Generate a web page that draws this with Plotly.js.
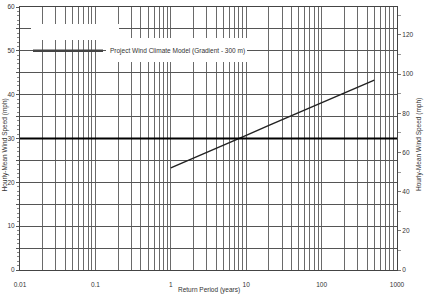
<!DOCTYPE html>
<html>
<head>
<meta charset="utf-8">
<script src="https://cdn.plot.ly/plotly-3.0.1.min.js"></script>
<style>html,body{margin:0;padding:0;background:#fff;}#chart{width:424px;height:294px;}</style>
</head>
<body>
<div id="chart"></div>
<script>
// Data
const returnPeriod = [1, 2, 5, 10, 20, 50, 100, 200, 500];          // years
const windSpeed    = [23.3, 25.5, 28.5, 30.7, 33.0, 35.9, 38.1, 40.3, 43.3]; // left axis units
const seriesName = 'Project Wind Climate Model (Gradient - 300 m)';
const referenceSpeed = 30;
const leftMax = 60;
const mphFactor = 2.23694;
const xTickVals = [];
const xTickText = [];
[0.01, 0.1, 1, 10, 100].forEach(d => {
  for (let k = 1; k <= 9; k++) {
    xTickVals.push(+(d * k).toPrecision(3));
    xTickText.push(k === 1 ? String(+(d).toPrecision(3)) : '');
  }
});
xTickVals.push(1000); xTickText.push('1000');
const yTickVals = [0,5,10,15,20,25,30,35,40,45,50,55,60];
const yTickText = ['0','','10','','20','','30','','40','','50','','60'];

const FONT = 'Liberation Sans, Arial, sans-serif';
const fs = 6.5;
const L = 20, R = 397, T = 7, B = 270;
const px = v => (v - L) / (R - L);
const py = v => (B - v) / (B - T);

const trace = {
  x: returnPeriod, y: windSpeed, type: 'scatter', mode: 'lines',
  name: seriesName, line: {color: '#222', width: 1.4}, showlegend: false
};
const trace2 = {x: [1], y: [0], yaxis: 'y2', type: 'scatter', mode: 'none', showlegend: false, hoverinfo: 'skip'};

const layout = {
  width: 424, height: 294,
  margin: {l: L, r: 424 - R, t: T, b: 294 - B},
  paper_bgcolor: '#fff', plot_bgcolor: '#fff',
  font: {family: FONT, size: fs, color: '#333'},
  showlegend: false,
  xaxis: {
    type: 'log', range: [-2, 3], tickmode: 'array', tickvals: xTickVals, ticktext: xTickText,
    ticks: 'outside', ticklen: 8, tickcolor: 'rgba(0,0,0,0)', showgrid: true, gridcolor: '#6a6a6a', gridwidth: 1,
    showline: true, linecolor: '#444', mirror: true, zeroline: false,
    tickfont: {size: fs, color: '#333'}
  },
  yaxis: {
    range: [0, leftMax], tickmode: 'array', tickvals: yTickVals, ticktext: yTickText,
    ticks: 'outside', ticklen: 3, tickcolor: '#555',
    minor: {tickmode: 'linear', tick0: 0, dtick: 1, ticks: 'outside', ticklen: 2, tickcolor: '#888', showgrid: false},
    showgrid: true, gridcolor: '#555', gridwidth: 1,
    showline: true, linecolor: '#444', zeroline: false,
    tickfont: {size: fs, color: '#333'}
  },
  yaxis2: {
    overlaying: 'y', side: 'right', range: [0, leftMax * mphFactor],
    tickmode: 'linear', tick0: 0, dtick: 20, ticks: 'outside', ticklen: 3, tickcolor: '#777',
    minor: {tickmode: 'linear', tick0: 0, dtick: 10, ticks: 'outside', ticklen: 3, tickcolor: '#999', showgrid: false},
    showgrid: false, showline: true, linecolor: '#444', zeroline: false,
    tickfont: {size: fs, color: '#333'}
  },
  shapes: [
    {type: 'line', xref: 'paper', yref: 'y', x0: 0, x1: 1, y0: referenceSpeed, y1: referenceSpeed,
     line: {color: '#000', width: 2}, layer: 'above'},
    {type: 'rect', xref: 'paper', yref: 'paper', x0: px(31), x1: px(119), y0: py(40), y1: py(24),
     fillcolor: '#fff', line: {width: 0}, layer: 'above'},
    {type: 'rect', xref: 'paper', yref: 'paper', x0: px(106), x1: px(247), y0: py(62), y1: py(38),
     fillcolor: '#fff', line: {width: 0}, layer: 'above'},
    {type: 'line', xref: 'paper', yref: 'y', x0: px(33), x1: px(103), y0: 50, y1: 50,
     line: {color: '#444', width: 2.5}, layer: 'above'}
  ],
  annotations: [
    {text: seriesName, xref: 'paper', yref: 'y', x: px(108), y: 50, xanchor: 'left', yanchor: 'middle',
     showarrow: false, bgcolor: '#fff', font: {size: fs, color: '#333'}},
    {text: 'Return Period (years)', xref: 'paper', yref: 'paper', x: px(209), y: py(289.5),
     xanchor: 'center', yanchor: 'middle', showarrow: false, font: {size: fs, color: '#333'}},
    {text: 'Hourly-Mean Wind Speed (mph)', xref: 'paper', yref: 'paper', x: px(4.5), y: py(145),
     xanchor: 'center', yanchor: 'middle', textangle: -90, showarrow: false, font: {size: fs, color: '#333'}},
    {text: 'Hourly-Mean Wind Speed (mph)', xref: 'paper', yref: 'paper', x: px(419), y: py(145),
     xanchor: 'center', yanchor: 'middle', textangle: -90, showarrow: false, font: {size: fs, color: '#333'}}
  ]
};

Plotly.newPlot('chart', [trace, trace2], layout, {staticPlot: true, displayModeBar: false});
</script>
</body>
</html>
